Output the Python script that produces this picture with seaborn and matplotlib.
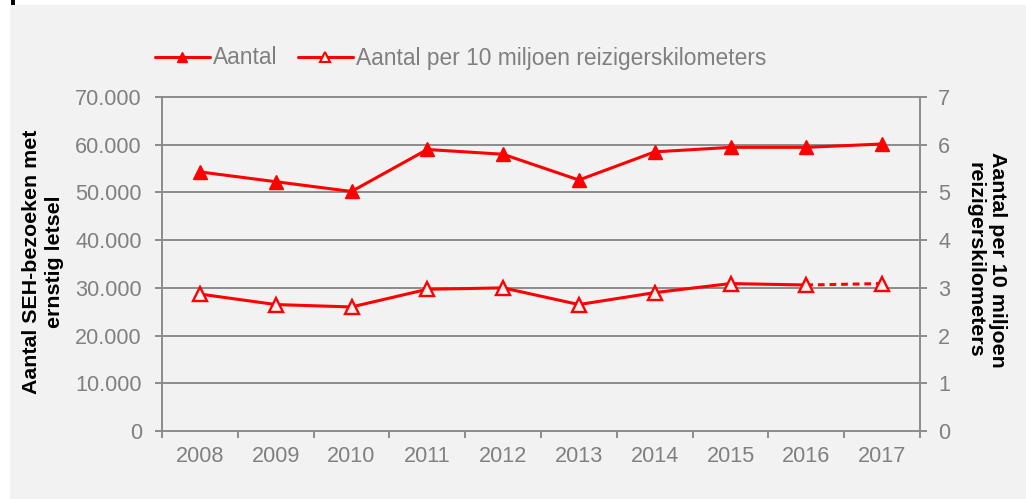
import matplotlib
matplotlib.use("Agg")
import matplotlib.pyplot as plt
from matplotlib.lines import Line2D
from matplotlib.patches import Rectangle
from matplotlib.ticker import FuncFormatter, FixedLocator
import seaborn as sns
import pandas as pd

years = ["2008", "2009", "2010", "2011", "2012", "2013", "2014", "2015", "2016", "2017"]
aantal = [54300, 52250, 50200, 59000, 58000, 52600, 58500, 59450, 59450, 60150]
per_10mln = [2.87, 2.65, 2.60, 2.97, 3.00, 2.65, 2.90, 3.09, 3.06, 3.09]
left_ticks = [0, 10000, 20000, 30000, 40000, 50000, 60000, 70000]
right_ticks = [0, 1, 2, 3, 4, 5, 6, 7]
legend_labels = ["Aantal", "Aantal per 10 miljoen reizigerskilometers"]
ylabel_left = "Aantal SEH-bezoeken met\nernstig letsel"
ylabel_right = "Aantal per 10 miljoen\nreizigerskilometers"

sns.set_theme(style="white")
plt.rcParams["font.family"] = ["Liberation Sans", "DejaVu Sans"]

RED = "#ff0000"
GRAY_TXT = "#808080"
GRAY_LN = "#8c8c8c"
BG = "#f2f2f2"
FS = 15.6
FS_LEG = 16.4
FS_LAB = 15.4

df = pd.DataFrame({"x": range(len(years)), "year": years, "aantal": aantal, "per": per_10mln})

fig = plt.figure(figsize=(10.26, 4.99), dpi=100)
fig.patch.set_facecolor("white")
fig.patches.append(Rectangle((10 / 1026, 0), 1, (499 - 5) / 499, transform=fig.transFigure,
                             facecolor=BG, edgecolor="none", zorder=-10))
fig.patches.append(Rectangle((11 / 1026, 1 - 5 / 499), 4 / 1026, 5 / 499, transform=fig.transFigure,
                             facecolor="black", edgecolor="none", zorder=-9))

ax = fig.add_axes([162 / 1026, 1 - 431 / 499, (920 - 162) / 1026, (431 - 97) / 499])
ax.set_facecolor("none")
ax2 = ax.twinx()
ax2.set_facecolor("none")

# gridlines
for v in left_ticks[1:]:
    ax.axhline(v, color=GRAY_LN, lw=1.4, zorder=0, clip_on=False)

# Aantal series
sns.lineplot(data=df, x="x", y="aantal", ax=ax, color=RED, lw=2.2, marker="^",
             markersize=10.5, markeredgecolor=RED, markerfacecolor=RED, markeredgewidth=1,
             zorder=5, legend=False)

# Per 10 mln series: solid up to 2016, dashed 2016-2017
solid = df.iloc[:9]
dashed = df.iloc[8:]
sns.lineplot(data=dashed, x="x", y="per", ax=ax2, color=RED, lw=2.2, linestyle=(0, (2.2, 1.6)),
             zorder=4, legend=False)
sns.lineplot(data=solid, x="x", y="per", ax=ax2, color=RED, lw=2.2, zorder=5, legend=False)
ax2.plot(df["x"], df["per"], linestyle="none", marker="^", markersize=9.5,
         markerfacecolor=BG, markeredgecolor=RED, markeredgewidth=1.7, zorder=6)

ax.set_xlim(-0.5, len(years) - 0.5)
ax.set_ylim(0, 70000)
ax2.set_ylim(0, 7)

ax.set_xticks(range(len(years)))
ax.set_xticklabels(years)
ax.xaxis.set_minor_locator(FixedLocator([i - 0.5 for i in range(len(years) + 1)]))
ax.tick_params(axis="x", which="major", length=0, pad=11, labelsize=FS, labelcolor=GRAY_TXT)
ax.tick_params(axis="x", which="minor", length=5, width=1.4, color=GRAY_LN, direction="out", bottom=True)

ax.set_yticks(left_ticks)
ax.yaxis.set_major_formatter(FuncFormatter(lambda v, p: f"{int(v):,}".replace(",", ".")))
ax.tick_params(axis="y", length=5, width=1.4, color=GRAY_LN, pad=9.5, labelsize=FS,
               labelcolor=GRAY_TXT, direction="out", left=True)

ax2.set_yticks(right_ticks)
ax2.tick_params(axis="y", length=5, width=1.4, color=GRAY_LN, pad=8, labelsize=FS,
                labelcolor=GRAY_TXT, direction="out", right=True)

for a in (ax, ax2):
    for s in a.spines.values():
        s.set_color(GRAY_LN)
        s.set_linewidth(1.4)
    a.spines["top"].set_visible(False)
    a.set_xlabel("")
    a.set_ylabel("")
ax2.spines["left"].set_visible(False)
ax2.spines["bottom"].set_visible(False)
ax.spines["right"].set_visible(False)

fig.text(43 / 1026, 1 - 262 / 499, ylabel_left, rotation=90, ha="center", va="center",
         multialignment="center", fontsize=FS_LAB, fontweight="bold", color="black", linespacing=1.2)
fig.text(986 / 1026, 1 - 260 / 499, ylabel_right, rotation=270, ha="center", va="center",
         multialignment="center", fontsize=FS_LAB, fontweight="bold", color="black", linespacing=1.2)

h1 = Line2D([], [], color=RED, lw=2.2, marker="^", markersize=7.5, markerfacecolor=RED, markeredgecolor=RED)
h2 = Line2D([], [], color=RED, lw=2.2, marker="^", markersize=7, markerfacecolor=BG,
            markeredgecolor=RED, markeredgewidth=1.5)
leg = fig.legend([h1, h2], legend_labels, ncol=2, loc="center left",
                 bbox_to_anchor=(155 / 1026, 1 - 58 / 499), frameon=False, fontsize=FS_LEG,
                 handlelength=2.4, handletextpad=0.15, columnspacing=0.9, borderaxespad=0,
                 borderpad=0)
for t in leg.get_texts():
    t.set_color(GRAY_TXT)

fig.savefig("out.png", dpi=100, facecolor="white")
